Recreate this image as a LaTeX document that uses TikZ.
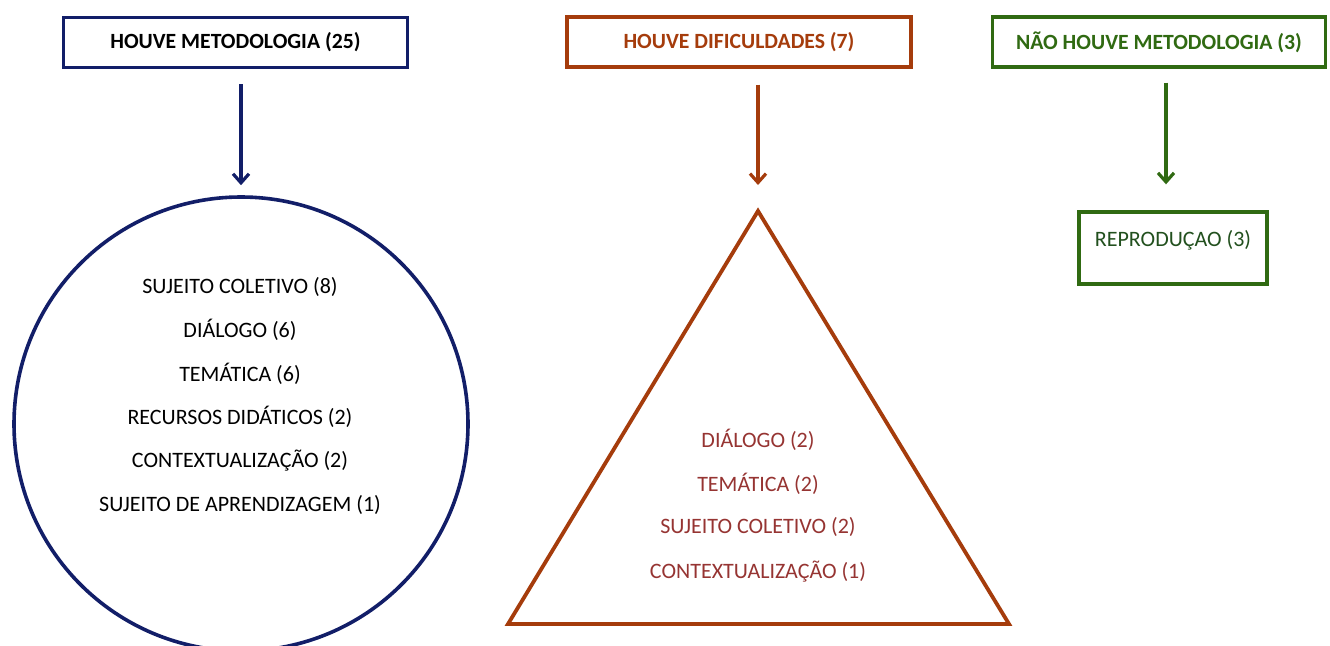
\documentclass[tikz,border=0pt]{standalone}
\usepackage{fontspec}
\setmainfont{Carlito}
\usetikzlibrary{arrows.meta,calc}
\definecolor{navy}{RGB}{18,30,104}
\definecolor{rust}{RGB}{165,60,12}
\definecolor{rusttext}{RGB}{150,52,50}
\definecolor{grn}{RGB}{48,106,18}
\definecolor{grntext}{RGB}{34,80,30}
\tikzset{
  hbox/.style={draw, line width=3.4pt, minimum width=344pt, minimum height=50pt, inner sep=0pt,
    font=\fontsize{21.7}{24}\selectfont\bfseries},
  arr/.style={line width=3.2pt, -{Straight Barb[length=9pt,width=16pt,line width=3.2pt]}},
  item/.style={font=\fontsize{22}{25}\selectfont, inner sep=0pt},
}
\begin{document}
\begin{tikzpicture}[x=1pt,y=-1pt]
\useasboundingbox[fill=white] (0,0) rectangle (1330,645);
% boxes
\node[hbox, draw=navy, text=black] (b1) at (235.5,42.5) {HOUVE METODOLOGIA (25)};
\node[hbox, draw=rust, text=rust] (b2) at (739,42) {HOUVE DIFICULDADES (7)};
\node[hbox, draw=grn, text=grn, minimum width=333pt] (b3) at (1159,42) {NÃO HOUVE METODOLOGIA (3)};
% circle
\node[draw=navy, line width=3.6pt, circle, minimum size=454pt, inner sep=0pt] (circ) at (241,424) {};
\foreach \t/\y in {SUJEITO COLETIVO (8)/287, DIÁLOGO (6)/330, TEMÁTICA (6)/374,
  RECURSOS DIDÁTICOS (2)/417, CONTEXTUALIZAÇÃO (2)/461, SUJEITO DE APRENDIZAGEM (1)/505}
  \node[item] at (240,\y) {\t};
% triangle
\coordinate (apex) at (758,211);
\coordinate (bl) at (508,624);
\coordinate (br) at (1009,624);
\draw[rust, line width=3.8pt, line join=miter] (apex) -- (br) -- (bl) -- cycle;
\foreach \t/\y in {DIÁLOGO (2)/440, TEMÁTICA (2)/484, SUJEITO COLETIVO (2)/527, CONTEXTUALIZAÇÃO (1)/572}
  \node[item, text=rusttext] at (758,\y) {\t};
% reproducao box
\node[draw=grn, line width=3.4pt, minimum width=188pt, minimum height=72pt, inner sep=0pt] (b4) at (1173,248) {};
\node[item, text=grntext] (b4t) at ([yshift=-30pt]b4.north) {REPRODUÇAO (3)};
\coordinate (g) at ([xshift=-7pt]b4.north);
% arrows
\draw[arr, navy, shorten <=15pt, shorten >=10pt] (b1.south -| circ.north) -- (circ.north);
\draw[arr, rust, shorten <=16pt, shorten >=26pt] (b2.south -| apex) -- (apex);
\draw[arr, grn, shorten <=14pt, shorten >=26pt] (b3.south -| g) -- (g);
\end{tikzpicture}
\end{document}
